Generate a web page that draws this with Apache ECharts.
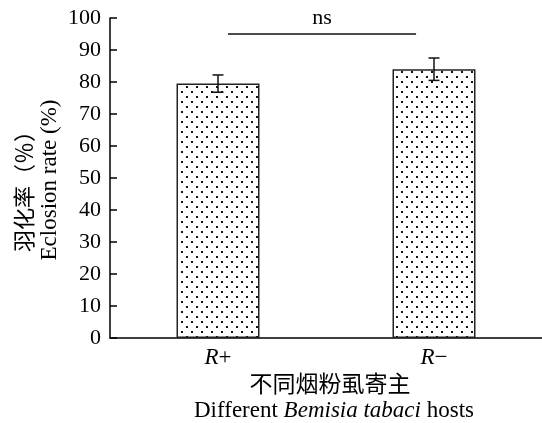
<!DOCTYPE html>
<html>
<head>
<meta charset="utf-8">
<script src="https://cdn.jsdelivr.net/npm/echarts@6/dist/echarts.min.js"></script>
<style>html,body{margin:0;padding:0;background:#fff}#c{width:542px;height:423px}</style>
</head>
<body>
<div id="c"></div>
<script>
const categories = ['R+', 'R−'];
const eclosionRate = [79.5, 84.0];
const errorSE = [2.7, 3.5];
const yTicks = [0, 10, 20, 30, 40, 50, 60, 70, 80, 90, 100];
const sigLevel = [95];
const sigText = 'ns';

const SERIF = '"Liberation Serif", "Times New Roman", "Noto Sans CJK SC", serif';

// dotted fill pattern
const pc = document.createElement('canvas');
pc.width = 10; pc.height = 10;
const px = pc.getContext('2d');
px.fillStyle = '#fff'; px.fillRect(0, 0, 10, 10);
px.fillStyle = '#111';
px.fillRect(1, 1, 2, 2);
px.fillRect(6, 6, 2, 2);

const chart = echarts.init(document.getElementById('c'), null, {renderer: 'canvas'});
const option = {
  animation: false,
  backgroundColor: '#fff',
  grid: {left: 110, top: 18, width: 432, height: 320, containLabel: false},
  xAxis: {
    type: 'category',
    data: categories,
    axisLine: {lineStyle: {color: '#000', width: 1.5}},
    axisTick: {inside: true, length: 5, lineStyle: {color: '#000', width: 1.5}},
    axisLabel: {
      margin: 8,
      fontFamily: SERIF, fontSize: 23, color: '#000',
      formatter: v => '{i|R}' + v.slice(1),
      rich: {i: {fontStyle: 'italic', fontFamily: SERIF, fontSize: 23, color: '#000'}}
    }
  },
  yAxis: {
    type: 'value', min: 0, max: 100, interval: 10,
    axisLine: {show: true, lineStyle: {color: '#000', width: 1.5}},
    axisTick: {show: true, inside: true, length: 7, lineStyle: {color: '#000', width: 1.5}},
    splitLine: {show: false},
    axisLabel: {margin: 9, fontFamily: SERIF, fontSize: 22, color: '#000',
      formatter: v => yTicks.includes(v) ? String(v) : ''}
  },
  series: [
    {
      type: 'bar',
      data: eclosionRate,
      barWidth: 83,
      itemStyle: {color: {image: pc, repeat: 'repeat'}, borderColor: '#222', borderWidth: 1.5}
    },
    {
      type: 'custom',
      data: categories.map((c, i) => [i, eclosionRate[i], errorSE[i]]),
      renderItem: (params, api) => {
        const x = api.value(0), y = api.value(1), e = api.value(2);
        const top = api.coord([x, y + e]);
        const bot = api.coord([x, y - e]);
        const hw = 5.5;
        const st = {stroke: '#111', lineWidth: 1.5};
        return {type: 'group', children: [
          {type: 'line', shape: {x1: top[0], y1: top[1], x2: bot[0], y2: bot[1]}, style: st},
          {type: 'line', shape: {x1: top[0] - hw, y1: top[1], x2: top[0] + hw, y2: top[1]}, style: st},
          {type: 'line', shape: {x1: bot[0] - hw, y1: bot[1], x2: bot[0] + hw, y2: bot[1]}, style: st}
        ]};
      },
      z: 5
    },
    {
      type: 'custom',
      data: sigLevel.map(v => [0, v]),
      renderItem: (params, api) => {
        const v = api.value(1);
        const a = api.coord([0, v]);
        const b = api.coord([1, v]);
        const bw = api.size([1, 0])[0];
        const x1 = a[0] + bw * 0.046, x2 = b[0] - bw * 0.083;
        return {type: 'group', children: [
          {type: 'line', shape: {x1: x1, y1: a[1], x2: x2, y2: a[1]}, style: {stroke: '#111', lineWidth: 1.5}},
          {type: 'text', style: {text: sigText, x: (x1 + x2) / 2, y: a[1] - 16, align: 'center', verticalAlign: 'middle',
            font: '22px ' + SERIF, fill: '#000'}}
        ]};
      },
      z: 5
    }
  ],
  graphic: [
    {type: 'text', x: 26, y: 186, rotation: Math.PI / 2,
      style: {text: '羽化率（％）', font: '22px ' + SERIF, fill: '#000', align: 'center', verticalAlign: 'middle'}},
    {type: 'text', x: 50, y: 180, rotation: Math.PI / 2,
      style: {text: 'Eclosion rate (%)', font: '23px ' + SERIF, fill: '#000', align: 'center', verticalAlign: 'middle'}},
    {type: 'text', x: 330, y: 386,
      style: {text: '不同烟粉虱寄主', font: '23px ' + SERIF, fill: '#000', align: 'center', verticalAlign: 'middle'}},
    {type: 'text', x: 334, y: 411,
      style: {text: 'Different {i|Bemisia tabaci} hosts', font: '23px ' + SERIF, fill: '#000', align: 'center', verticalAlign: 'middle',
        rich: {i: {fontStyle: 'italic', fontFamily: SERIF, fontSize: 23, fill: '#000'}}}}
  ]
};
chart.setOption(option);
</script>
</body>
</html>
